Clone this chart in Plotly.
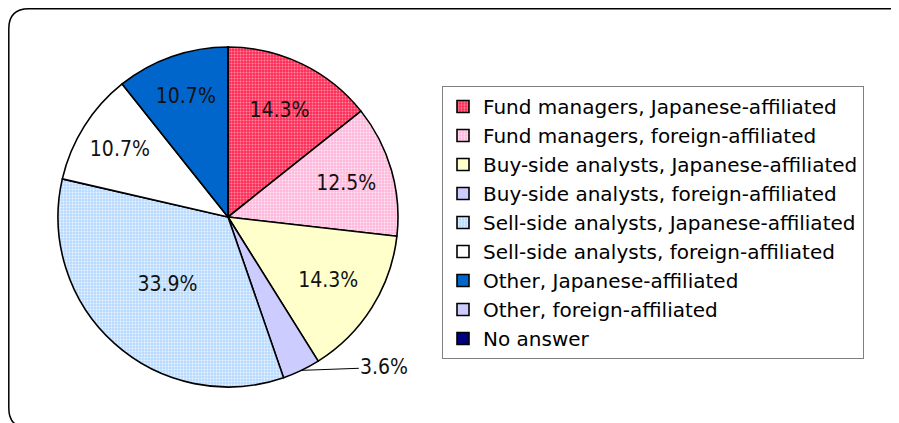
import math
import plotly.graph_objects as go

labels = [
    "Fund managers, Japanese-affiliated",
    "Fund managers, foreign-affiliated",
    "Buy-side analysts, Japanese-affiliated",
    "Buy-side analysts, foreign-affiliated",
    "Sell-side analysts, Japanese-affiliated",
    "Sell-side analysts, foreign-affiliated",
    "Other, Japanese-affiliated",
    "Other, foreign-affiliated",
    "No answer",
]
values = [14.3, 12.5, 14.3, 3.6, 33.9, 10.7, 10.7, 0.0, 0.0]
outside_idx = 3  # the 3.6% slice carries an external label with leader line

bg_colors = ["#FF2A55", "#FFB8DC", "#FFFFCC", "#CCCCFF", "#B8DAFF",
             "#FFFFFF", "#0066CC", "#CCCCFF", "#000080"]
fg_colors = ["#FF8CA2", "#FFE6F2", "#FFFFCC", "#CCCCFF", "#EAF4FF",
             "#FFFFFF", "#0066CC", "#CCCCFF", "#000080"]
shapes_pat = [".", ".", "", "", ".", "", "", "", ""]

W, H = 899, 423
OFF = 8  # page body margin shifts the figure by 8px
cx, cy, R = 228 - OFF, 217 - OFF, 170

total = sum(values)
texts = []
for i, v in enumerate(values):
    if v == 0 or i == outside_idx:
        texts.append("")
    else:
        texts.append(f"{v:.1f}%")

LABEL_FONT = dict(family="DejaVu Sans Condensed, Liberation Sans, sans-serif",
                  size=21, color="#111111")

fig = go.Figure()
fig.add_trace(go.Pie(
    labels=labels,
    values=values,
    sort=False,
    direction="clockwise",
    rotation=0,
    text=texts,
    textinfo="text",
    textposition="inside",
    insidetextorientation="horizontal",
    textfont=LABEL_FONT,
    marker=dict(
        colors=bg_colors,
        line=dict(color="#000000", width=1.6),
        pattern=dict(shape=shapes_pat, fgcolor=fg_colors, bgcolor=bg_colors,
                     size=3, solidity=0.35),
    ),
    domain=dict(x=[(cx - R) / W, (cx + R) / W],
                y=[(H - cy - R) / H, (H - cy + R) / H]),
    hoverinfo="skip",
))

# external label with leader line for the small slice, placed from the data
cum = sum(values[:outside_idx]) + values[outside_idx] / 2
ang = cum / total * 2 * math.pi
ex = cx + R * math.sin(ang)
ey = cy - R * math.cos(ang)
fig.add_annotation(
    x=ex / W, y=1 - ey / H, xref="paper", yref="paper",
    text=f"{values[outside_idx]:.1f}%",
    showarrow=True, arrowhead=0, arrowwidth=1, arrowcolor="#000000",
    ax=83, ay=-3, standoff=0,
    font=LABEL_FONT,
)

# rounded chart border
x0, y0, x1, y1, r = 0.8, 0.8, 907, 420, 20
def px(x):
    return x / W
def py(y):
    return 1 - y / H
path = (f"M {px(x0)},{py(y0 + r)} Q {px(x0)},{py(y0)} {px(x0 + r)},{py(y0)} "
        f"L {px(x1 - r)},{py(y0)} Q {px(x1)},{py(y0)} {px(x1)},{py(y0 + r)} "
        f"L {px(x1)},{py(y1 - r)} Q {px(x1)},{py(y1)} {px(x1 - r)},{py(y1)} "
        f"L {px(x0 + r)},{py(y1)} Q {px(x0)},{py(y1)} {px(x0)},{py(y1 - r)} Z")
fig.add_shape(type="path", path=path, xref="paper", yref="paper",
              line=dict(color="#000000", width=1.5), layer="below")

fig.update_layout(
    width=W, height=H,
    margin=dict(l=0, r=0, t=0, b=0),
    paper_bgcolor="#FFFFFF",
    plot_bgcolor="#FFFFFF",
    showlegend=True,
    legend=dict(
        x=(442 - OFF) / W, y=1 - (86 - OFF) / H, xanchor="left", yanchor="top",
        bgcolor="#FFFFFF", bordercolor="#808080", borderwidth=1,
        font=dict(family="DejaVu Sans", size=20, color="#000000"),
        itemwidth=30, traceorder="normal",
    ),
)

fig.write_html("out.html")
